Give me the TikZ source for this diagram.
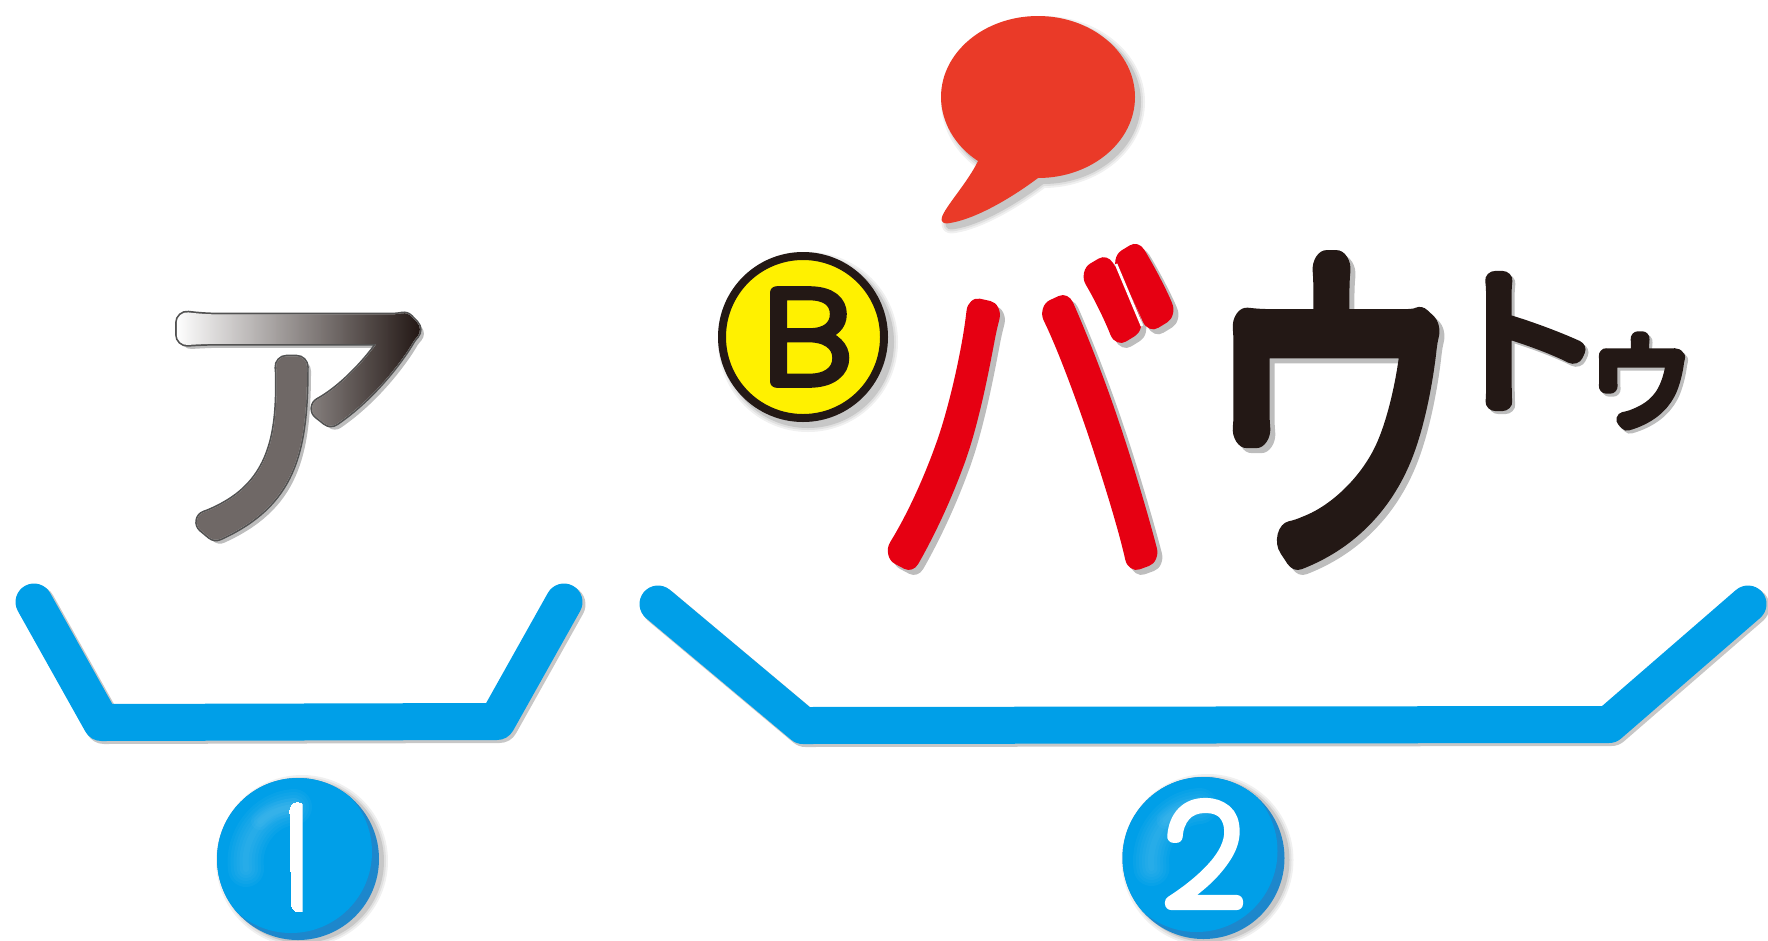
\documentclass[tikz,border=0pt]{standalone}
\usepackage{fontspec}
\usepackage{graphicx}
\usetikzlibrary{fadings}
\setmainfont{Poppins}
\newfontfamily\jpAa[FakeBold=7.2]{Noto Sans CJK JP Thin}
\newfontfamily\jpAb[FakeBold=8.4]{Noto Sans CJK JP Thin}
\newfontfamily\jpT{Noto Sans CJK JP Thin}
\newfontfamily\jpV[FakeBold=7.5]{Noto Sans CJK JP Thin}
\newfontfamily\jpU[FakeBold=11]{Noto Sans CJK JP Thin}
\newfontfamily\jpK[FakeBold=12]{Noto Sans CJK JP Thin}
\newfontfamily\latA[FakeBold=9]{Poppins Thin}
\definecolor{tblue}{HTML}{009FE8}
\definecolor{tdark}{HTML}{1D87CC}
\definecolor{tlight}{HTML}{5FC3F2}
\definecolor{tred}{HTML}{E60012}
\definecolor{tink}{HTML}{231815}
\definecolor{tballoon}{HTML}{EA3A28}
\definecolor{tyellow}{HTML}{FFF100}
\begin{tikzfadingfrompicture}[name=afade,x=.75pt,y=-.75pt]
\shade[left color=transparent!100,right color=transparent!0] (176,300) rectangle (420,560);
\fill[transparent!0] (420,300) rectangle (440,560);
\fill[transparent!100] (150,300) rectangle (176,560);
\fill[transparent!35] (150,352) rectangle (312,560);
\end{tikzfadingfrompicture}
\tikzset{
  glyph/.style={inner sep=0pt,outer sep=0pt,anchor=center},
  tray/.style={draw=tblue,line width=27.75pt,line join=round,line cap=round},
  trayshadow/.style={draw=black!22,line width=28.5pt,line join=round,line cap=round},
}
\newcommand{\rd}{\special{pdf:code 1 j 1 J}}
% font, size, xscale, yscale, text
\newcommand{\Kana}[5]{\scalebox{#3}[#4]{#1\fontsize{#2}{#2}\selectfont\rd #5}}
\newcommand{\softshadow}[2][]{%
  \draw[#1,draw=black!6,fill=black!6,line width=7.5pt] #2;
  \draw[#1,draw=black!12,fill=black!12,line width=4.5pt] #2;
  \draw[#1,draw=black!22,fill=black!22,line width=1.5pt] #2;
}
\newcommand{\badge}[2]{%
  \softshadow[shift={(#1+4,#2+2)}]{(0,0) circle[radius=81]}
  \fill[tdark,shift={(#1,#2)}] (0,0) circle[radius=81];
  \begin{scope}[shift={(#1,#2)}]
    \clip (0,0) circle[radius=81];
    \fill[tblue] (-7,-7) circle[radius=81];
    \foreach \w in {6,12,...,36}{\draw[tlight,opacity=.09,line width=\w*.75pt,line cap=round] (-52,10) .. controls (-56,-20) and (-34,-50) .. (-4,-52);}
    \foreach \w in {6,12,18}{\draw[tlight,opacity=.1,line width=\w*.75pt,line cap=round] (-38,-38) .. controls (-30,-46) and (-20,-50) .. (-4,-52);}
  \end{scope}
}
\begin{document}
\begin{tikzpicture}[x=.75pt,y=-.75pt,line join=round,line cap=round]
\useasboundingbox (0,0) rectangle (1768,940);
% balloon
\def\balloonpath{(1038,178) .. controls (1091.6,178) and (1135,141.7) .. (1135,97) .. controls (1135,52.3) and (1091.6,16) .. (1038,16) .. controls (984.4,16) and (941,52.3) .. (941,97) .. controls (941,122) and (955,146) .. (978,161) .. controls (968,182) and (945,207) .. (942,217) .. controls (940,224) and (946,224) .. (950,223) .. controls (975,219) and (1010,199) .. (1038,178) -- cycle}
\softshadow[shift={(5,5)}]{\balloonpath}
\fill[tballoon] \balloonpath;
% trays
\draw[trayshadow,shift={(2.5,2.5)}] (34,602) -- (101.5,722.5) -- (497,721.5) -- (564,602);
\draw[trayshadow,shift={(2.5,2.5)}] (658,604) -- (803,725.5) -- (1609,724.5) -- (1748,604);
\draw[tray] (34,602) -- (101.5,722.5) -- (497,721.5) -- (564,602);
\draw[tray] (658,604) -- (803,725.5) -- (1609,724.5) -- (1748,604);
% badges
\badge{298}{859}
\badge{1203.5}{858}
\node[glyph,text=white] (two) at (1204,854) {\Kana{\latA}{105}{1}{1}{2}};
% B
\softshadow[shift={(808,342)}]{(0,0) circle[radius=85]}
\node[glyph,circle,draw=tink,fill=tyellow,line width=6pt,minimum size=121.5pt] (bcirc) at (803,337) {};
\node[glyph,text=tink] (b) at (807,337) {\Kana{\latA}{96}{1.2}{1}{B}};
% katakana shadows
\node[glyph,text=black!26] at (296,430) {\Kana{\jpAa}{216}{1}{1}{ア}};
\node[glyph,text=black!26] at (1031,414) {\Kana{\jpV}{290}{.8}{.98}{バ}};
\node[glyph,text=black!26] at (1339,415) {\Kana{\jpU}{235}{.82}{1.12}{ウ}};
\node[glyph,text=black!26] at (1523,344) {\Kana{\jpK}{120}{1.06}{.98}{ト}};
\node[glyph,text=black!26] at (1644,384) {\Kana{\jpK}{105}{.86}{.91}{ゥ}};
% ア
\node[glyph,text=black!68] at (292,426) {\Kana{\jpAb}{216}{1}{1}{ア}};
\node[glyph,text=white] at (292,426) {\Kana{\jpAa}{216}{1}{1}{ア}};
\begin{scope}
  \clip[rotate around={1:(298,857)},rounded corners=6pt] (290,802) rectangle (306,912);
  \node[glyph,text=white] (one) at (284,857) {\Kana{\bfseries}{125}{1}{1}{1}};
\end{scope}
\begin{scope}
\pgfsetfading{afade}{\pgftransformshift{\pgfpoint{221.25pt}{-322.5pt}}}
\node[glyph,text=tink] (a) at (292,426) {\Kana{\jpT\special{pdf:code 1 Tr 15.55 w}}{216}{1}{1}{ア}};
\end{scope}
% others
\node[glyph,text=tred] (ba) at (1026,409) {\Kana{\jpV}{290}{.8}{.98}{バ}};
\draw[white,line width=2pt,line cap=butt] (1116,264) -- (1142,326);
\node[glyph,text=tink] (u) at (1334,410) {\Kana{\jpU}{235}{.82}{1.12}{ウ}};
\node[glyph,text=tink] (to) at (1520,341) {\Kana{\jpK}{120}{1.06}{.98}{ト}};
\node[glyph,text=tink] (su) at (1641,381) {\Kana{\jpK}{105}{.86}{.91}{ゥ}};
\end{tikzpicture}
\end{document}
